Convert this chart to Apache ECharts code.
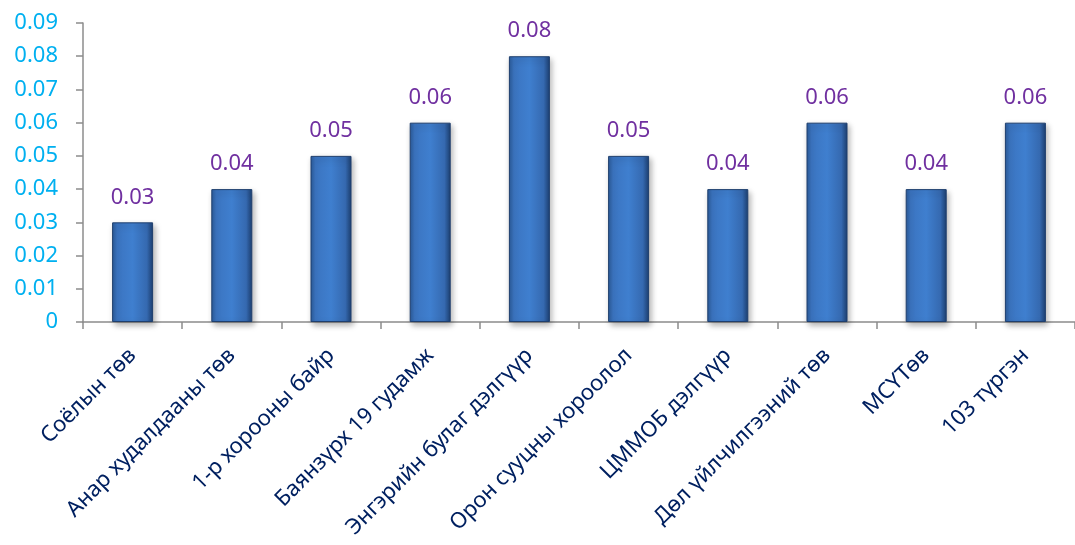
<!DOCTYPE html>
<html><head><meta charset="utf-8">
<script src="https://cdn.jsdelivr.net/npm/echarts@6/dist/echarts.min.js"></script>
<style>html,body{margin:0;padding:0;background:#fff}#c{width:1075px;height:545px}</style>
</head><body><div id="c"></div>
<script>
const categories = ["Соёлын төв","Анар худалдааны төв","1-р хорооны байр","Баянзүрх 19 гудамж","Энгэрийн булаг дэлгүүр","Орон сууцны хороолол","ЦММОБ дэлгүүр","Дөл үйлчилгээний төв","МСҮТөв","103 түргэн"];
const values = [0.03,0.04,0.05,0.06,0.08,0.05,0.04,0.06,0.04,0.06];
const yTicks = {min:0, max:0.09, interval:0.01};

const chart = echarts.init(document.getElementById('c'), null, {renderer:'canvas'});
chart.setOption({
  animation:false,
  grid:{left:83, right:-12, top:23, bottom:223, containLabel:false},
  xAxis:{type:'category', data:categories,
    axisLine:{lineStyle:{color:'#8c8c8c', width:1.5}},
    axisTick:{show:true, alignWithLabel:false, length:7, lineStyle:{color:'#8c8c8c', width:1.5}},
    axisLabel:{rotate:45, interval:0, color:'#002060', fontSize:22, fontFamily:'Noto Sans', margin:30}},
  yAxis:{type:'value', min:yTicks.min, max:yTicks.max, interval:yTicks.interval,
    axisLine:{show:true, lineStyle:{color:'#8c8c8c', width:1.5}},
    axisTick:{show:true, length:7, lineStyle:{color:'#8c8c8c', width:1.5}},
    splitLine:{show:false},
    axisLabel:{color:'#00B0F0', fontSize:22, fontFamily:'Noto Sans', margin:25,
      formatter:v=>v===0?'0':v.toFixed(2)}},
  series:[{type:'bar', data:values, barWidth:41,
    itemStyle:{
      color:new echarts.graphic.LinearGradient(0,0,1,0,[
        {offset:0,color:'#2a5a98'},{offset:0.12,color:'#3b74c0'},{offset:0.5,color:'#3f7fcf'},
        {offset:0.85,color:'#3569b0'},{offset:1,color:'#1c3f70'}]),
      borderColor:'#1f3f6e', borderWidth:1,
      shadowColor:'rgba(0,0,0,0.3)', shadowBlur:6, shadowOffsetX:2, shadowOffsetY:3},
    label:{show:true, position:'top', distance:14, color:'#7030A0', fontSize:22, fontFamily:'Noto Sans',
      formatter:p=>p.value.toFixed(2)}
  }]
});
</script></body></html>
